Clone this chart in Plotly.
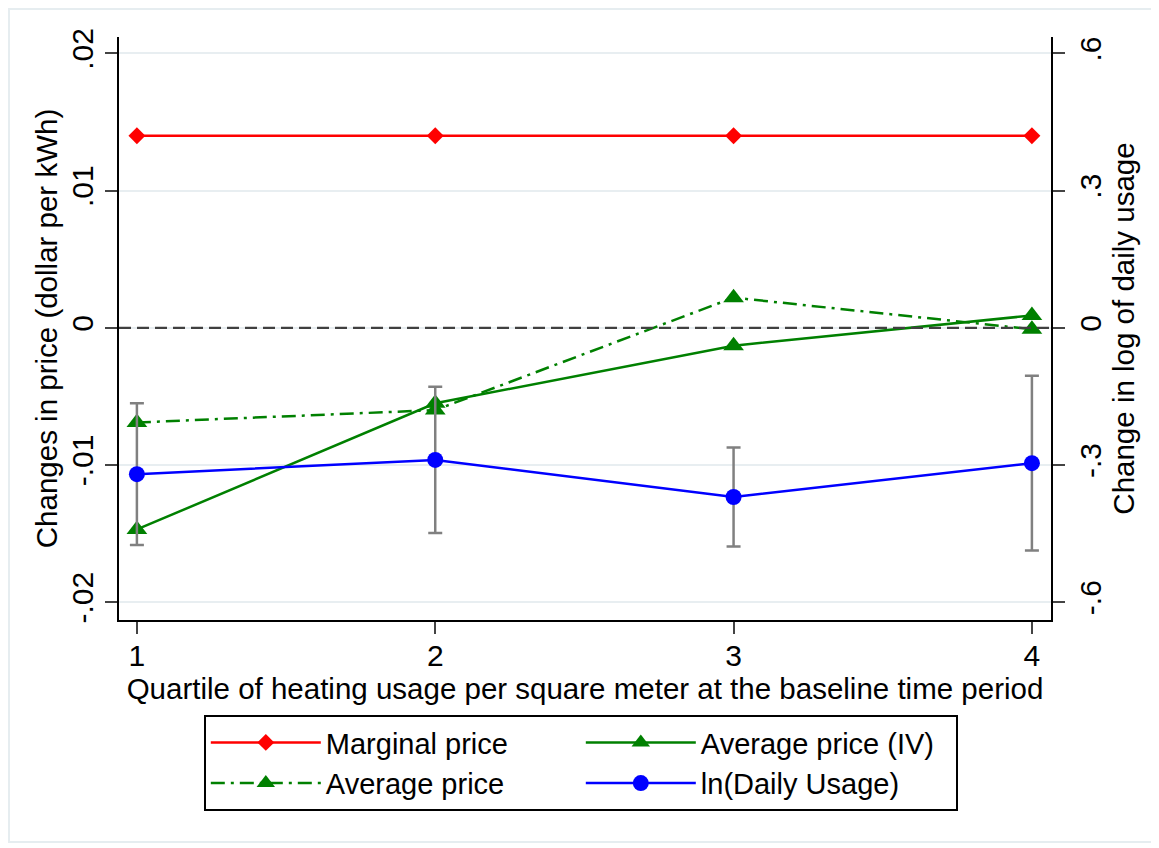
import plotly.graph_objects as go

# quartiles of heating usage at baseline
quartile = [1, 2, 3, 4]

# price effects (dollar per kWh), left axis
marginal_price = [0.014, 0.014, 0.014, 0.014]
avg_price_iv = [-0.0147, -0.0055, -0.0013, 0.0009]
avg_price = [-0.0069, -0.0060, 0.0022, -0.0001]

# log usage effect + CI half-width, right axis
ln_usage = [-0.320, -0.289, -0.370, -0.296]
ln_usage_err = [0.155, 0.160, 0.108, 0.191]

left_ticks = [-0.02, -0.01, 0, 0.01, 0.02]
left_labels = ["-.02", "-.01", "0", ".01", ".02"]
right_ticks = [-0.6, -0.3, 0, 0.3, 0.6]
right_labels = ["-.6", "-.3", "0", ".3", ".6"]

FONT = "Liberation Sans"

fig = go.Figure()

fig.add_trace(go.Scatter(x=quartile, y=marginal_price, name="Marginal price", mode="lines+markers",
                         line=dict(color="#ff0000", width=2.5),
                         marker=dict(symbol="diamond", size=13, color="#ff0000")))
fig.add_trace(go.Scatter(x=quartile, y=avg_price_iv, name="Average price (IV)", mode="lines+markers",
                         line=dict(color="#008000", width=2.5),
                         marker=dict(symbol="triangle-up", size=18, color="#008000")))
fig.add_trace(go.Scatter(x=quartile, y=avg_price, name="Average price", mode="lines+markers",
                         line=dict(color="#008000", width=2.5, dash="14px,6px,3px,6px"),
                         marker=dict(symbol="triangle-up", size=18, color="#008000")))
fig.add_trace(go.Scatter(x=quartile, y=ln_usage, name="ln(Daily Usage)", mode="lines+markers", yaxis="y2",
                         line=dict(color="#0000ff", width=2.5),
                         marker=dict(symbol="circle", size=16, color="#0000ff"),
                         error_y=dict(type="data", array=ln_usage_err, visible=True,
                                      color="#808080", thickness=2.5, width=7)))

# zero reference line
fig.add_shape(type="line", xref="paper", x0=0, x1=1, yref="y", y0=0, y1=0,
              line=dict(color="#404040", width=2.2, dash="12px,6px"))
# light frame around the whole graph
fig.add_shape(type="rect", xref="paper", yref="paper", x0=-0.118, x1=1.1116, y0=-0.381, y1=1.048,
              line=dict(color="#e6edf0", width=2))

fig.update_layout(
    width=1151, height=840,
    margin=dict(l=111, r=108, t=29, b=228),
    paper_bgcolor="white", plot_bgcolor="white",
    font=dict(family=FONT, size=24, color="black"),
    xaxis=dict(range=[0.94, 4.064], tickvals=quartile, ticks="outside", ticklen=12, tickwidth=1.5,
               tickfont=dict(size=30), ticklabelstandoff=-4,
               showline=True, linecolor="black", linewidth=2, showgrid=False, zeroline=False,
               title=dict(text="Quartile of heating usage per square meter at the baseline time period",
                          standoff=0, font=dict(size=29.5))),
    yaxis=dict(range=[-0.0213, 0.0212], tickvals=left_ticks, ticktext=left_labels, tickangle=-90,
               ticks="outside", ticklen=12, tickwidth=1.5, tickfont=dict(size=30),
               showline=True, linecolor="black", linewidth=2, zeroline=False,
               showgrid=True, gridcolor="#e8eef1", gridwidth=2,
               title=dict(text="Changes in price (dollar per kWh)", standoff=0, font=dict(size=29.5))),
    yaxis2=dict(range=[-0.639, 0.636], tickvals=right_ticks, ticktext=right_labels, tickangle=-90,
                overlaying="y", side="right", ticks="outside", ticklen=12, tickwidth=1.5,
                tickfont=dict(size=30),
                showline=True, linecolor="black", linewidth=2, zeroline=False, showgrid=False,
                title=dict(text="Change in log of daily usage", standoff=0, font=dict(size=29.5))),
    showlegend=True,
    legend=dict(orientation="h", x=0.091, y=-0.163, xanchor="left", yanchor="top",
                bordercolor="black", borderwidth=2, entrywidth=250, itemwidth=110,
                traceorder="normal", font=dict(size=29)),
)

fig.write_html("out.html")
